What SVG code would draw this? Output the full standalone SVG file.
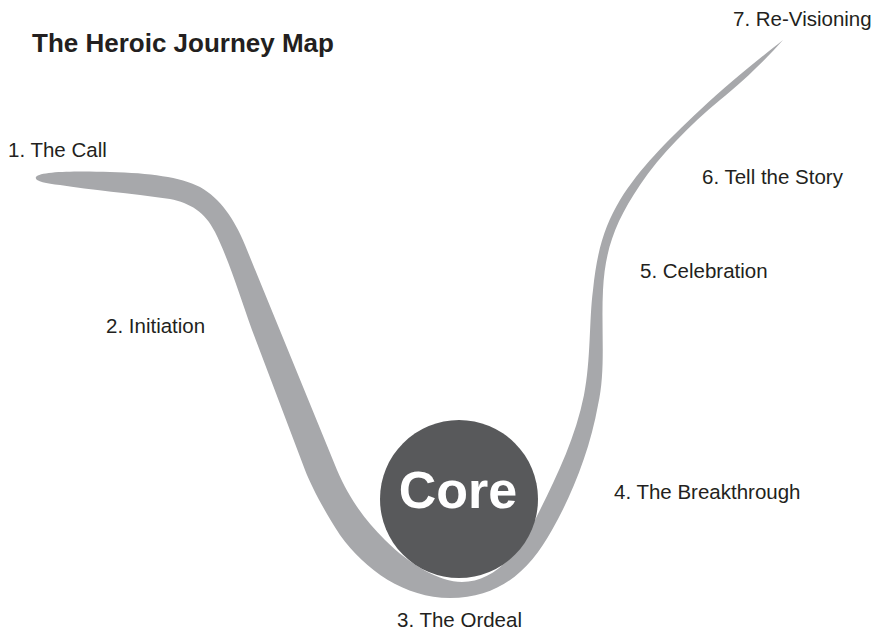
<svg xmlns="http://www.w3.org/2000/svg" width="880" height="632" viewBox="0 0 880 632">
  <style>
    .label { font-family: "Liberation Sans", Arial, Helvetica, sans-serif; font-size: 20.5px; fill: #231f20; }
    .title { font-family: "Liberation Sans", Arial, Helvetica, sans-serif; font-size: 26px; font-weight: bold; fill: #231f20; }
    .core-text { font-family: "Liberation Sans", Arial, Helvetica, sans-serif; font-size: 52px; font-weight: bold; fill: #ffffff; text-anchor: middle; }
    .path-band { fill: #a7a8ab; }
    .core-disc { fill: #58595b; }
  </style>
  <rect width="880" height="632" fill="#ffffff"/>

  <text class="title" x="32" y="52">The Heroic Journey Map</text>

  <!-- the journey: a tapered U-shaped band -->
  <g id="connectors">
    <path class="path-band" d="M 36,177
      C 40,171 80,171 110,172
      C 150,173 180,177 200,187
      C 220,198 235,220 245,245
      L 337,470
      C 350,500 365,520 385,540
      C 410,565 440,582 462,582
      C 490,582 515,560 535,520
      C 555,480 575,440 584,395
      C 591,360 589,320 593,290
      C 597,250 605,225 620,200
      C 640,168 665,143 700,110
      C 730,82 760,58 783,40
      C 770,55 745,80 720,100
      C 690,125 660,155 640,185
      C 615,222 605,250 603,290
      C 601,330 606,370 598,405
      C 590,450 572,495 552,530
      C 530,570 500,598 450,598
      C 405,598 365,570 340,535
      C 325,512 312,488 305,470
      L 252,330
      C 240,296 228,258 215,232
      C 205,212 190,203 170,199
      C 130,193 90,190 60,185
      C 45,183 34,181 36,177 Z"/>
  </g>

  <g id="core">
    <circle class="core-disc" cx="459" cy="499" r="79"/>
    <text class="core-text" x="458" y="508">Core</text>
  </g>

  <g id="stage-1"><text class="label" x="8" y="157">1. The Call</text></g>
  <g id="stage-2"><text class="label" x="106" y="333">2. Initiation</text></g>
  <g id="stage-3"><text class="label" x="397" y="627">3. The Ordeal</text></g>
  <g id="stage-4"><text class="label" x="614" y="499">4. The Breakthrough</text></g>
  <g id="stage-5"><text class="label" x="640" y="278">5. Celebration</text></g>
  <g id="stage-6"><text class="label" x="702" y="184">6. Tell the Story</text></g>
  <g id="stage-7"><text class="label" x="733" y="26">7. Re-Visioning</text></g>
</svg>
